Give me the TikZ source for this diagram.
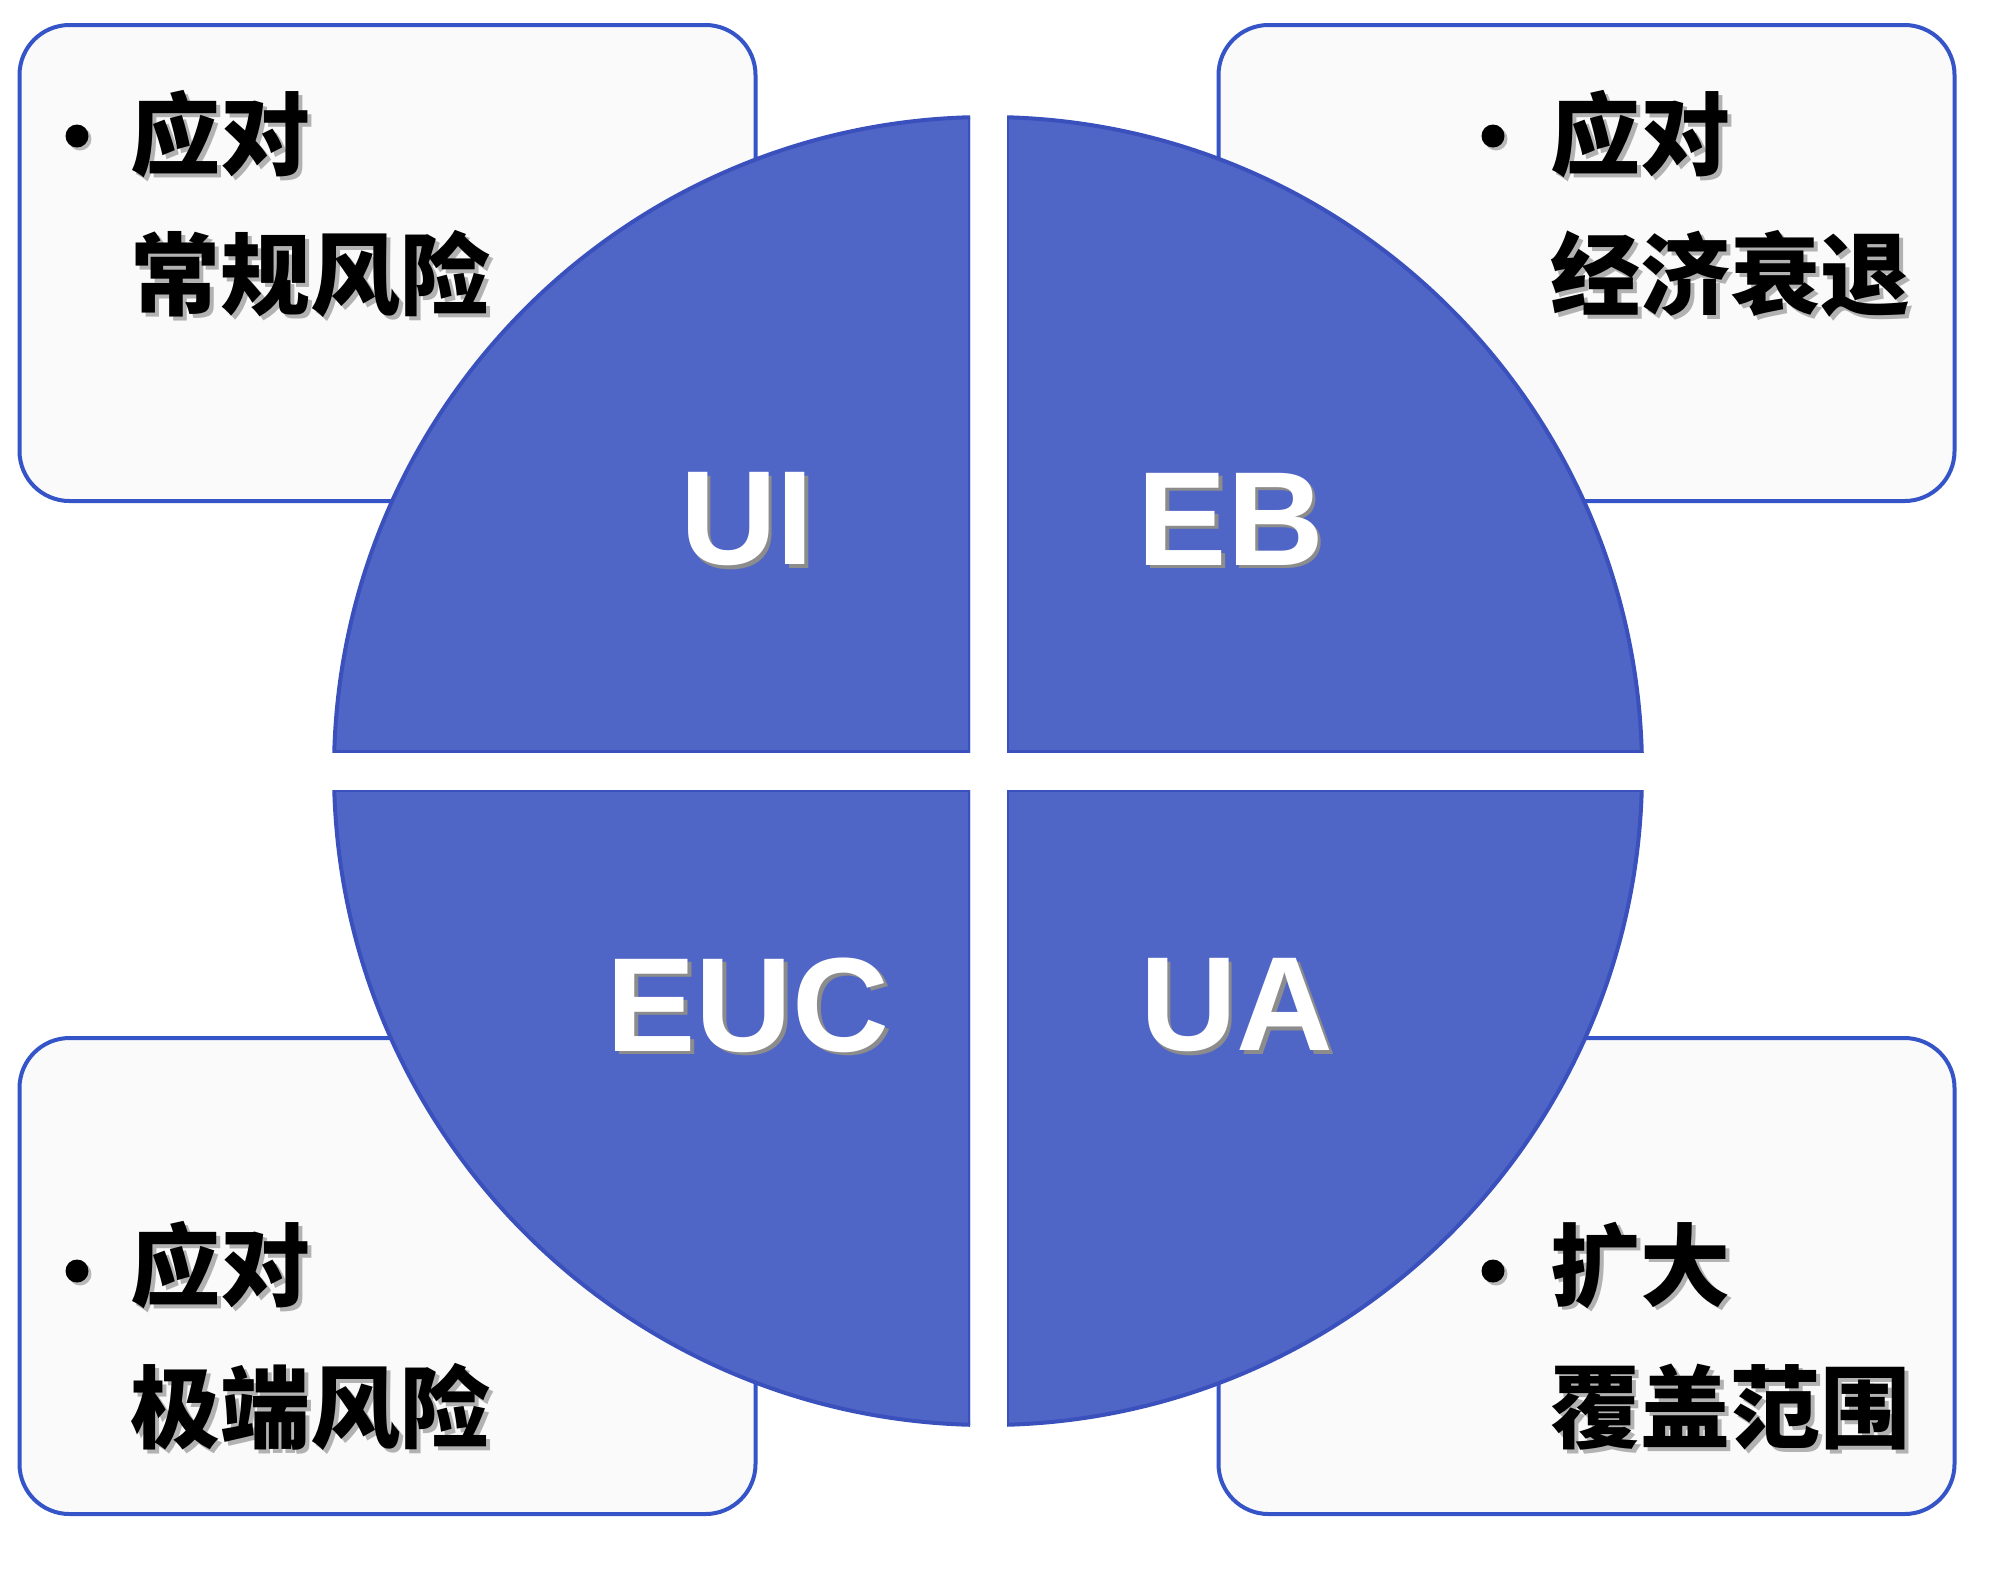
\documentclass[tikz,border=0pt]{standalone}
\usepackage{fontspec}
\setmainfont{Liberation Sans}
\newfontfamily\cjk{Noto Sans CJK SC}
\usetikzlibrary{shadows}
\definecolor{quadblue}{RGB}{80,102,198}
\definecolor{quadedge}{RGB}{58,80,188}
\definecolor{boxline}{RGB}{52,84,200}
\definecolor{boxfill}{RGB}{250,250,250}
\newcommand\shtext[2]{\rlap{\kern1.8pt\raisebox{-1.8pt}{\color{#1}#2}}#2}
\begin{document}
\begin{tikzpicture}[x=0.5pt,y=-0.5pt,
  infobox/.style={draw=boxline, line width=2pt, fill=boxfill, rounded corners=25pt,
    minimum width=368pt, minimum height=238pt, inner sep=0pt},
  quadfill/.style={fill=quadblue},
  quadline/.style={draw=quadedge, line width=2pt},
  quadlabel/.style={text=white, inner sep=0pt, font=\fontsize{67}{67}\selectfont\bfseries},
  cjkline/.style={anchor=west, inner sep=0pt, text=black, font=\cjk\bfseries\fontsize{45}{45}\selectfont},
  bulletdot/.style={circle, fill=black, minimum size=11.5pt, inner sep=0pt,
    drop shadow={shadow xshift=1.5pt, shadow yshift=-1.5pt, fill=gray!55, opacity=1}}]
\useasboundingbox (0,0) rectangle (2000,1570);
\fill[white] (0,0) rectangle (2000,1570);

% boxes
\node[infobox] (boxTL) at (387.5,263) {};
\node[infobox] (boxTR) at (1586.5,263) {};
\node[infobox] (boxBL) at (387.5,1276) {};
\node[infobox] (boxBR) at (1586.5,1276) {};

% quadrants
\coordinate (cc) at (988,771);
\foreach \xa/\ya/\xb/\yb in {300/60/970/752, 1007/60/1700/752, 300/790/970/1480, 1007/790/1700/1480}{
  \begin{scope}
    \clip (\xa,\ya) rectangle (\xb,\yb);
    \fill[quadfill] (cc) circle (654);
    \draw[quadline] (cc) circle (654);
    \begin{scope}
      \clip (cc) circle (654);
      \draw[quadline] (\xa,\ya) rectangle (\xb,\yb);
    \end{scope}
  \end{scope}
}

% quadrant labels
\node[quadlabel] (ui) at (747,521) {\shtext{black!45}{UI}};
\node[quadlabel] (eb) at (1231,521) {\shtext{black!45}{EB}};
\node[quadlabel] (euc) at (748,1007) {\shtext{black!45}{EUC}};
\node[quadlabel] (ua) at (1237,1007) {\shtext{black!45}{UA}};

% box texts
\node[bulletdot] (dotTL) at (77,136) {};
\node[cjkline] (tl1) at (130,136) {\shtext{gray!60}{应对}};
\node[cjkline] (tl2) at (130,276) {\shtext{gray!60}{常规风险}};

\node[bulletdot] (dotTR) at (1493,136) {};
\node[cjkline] (tr1) at (1550,136) {\shtext{gray!60}{应对}};
\node[cjkline] (tr2) at (1550,276) {\shtext{gray!60}{经济衰退}};

\node[bulletdot] (dotBL) at (77,1271) {};
\node[cjkline] (bl1) at (130,1267) {\shtext{gray!60}{应对}};
\node[cjkline] (bl2) at (130,1409) {\shtext{gray!60}{极端风险}};

\node[bulletdot] (dotBR) at (1493,1271) {};
\node[cjkline] (br1) at (1550,1267) {\shtext{gray!60}{扩大}};
\node[cjkline] (br2) at (1550,1409) {\shtext{gray!60}{覆盖范围}};
\end{tikzpicture}
\end{document}
